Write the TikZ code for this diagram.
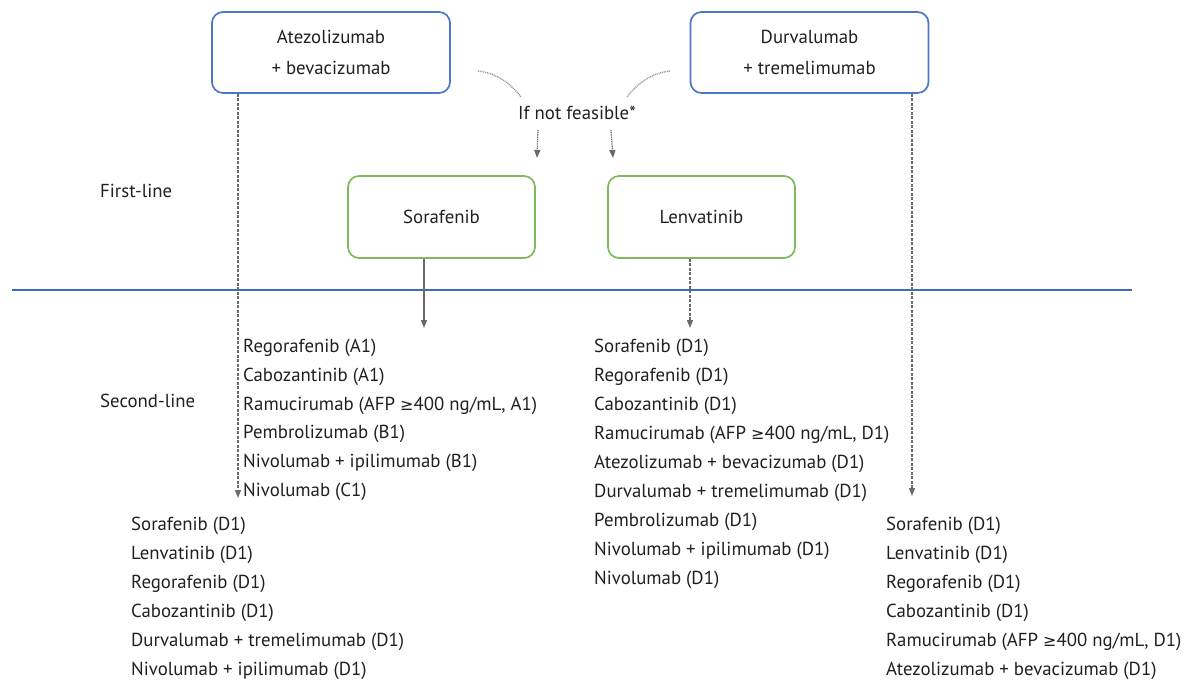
\documentclass[tikz,border=0pt]{standalone}
\usepackage{fontspec}
\setmainfont{PT Sans}
\newfontfamily\symf[Scale=0.85]{DejaVu Sans}
\usetikzlibrary{arrows.meta,calc}
\definecolor{bbox}{HTML}{4A78C6}
\definecolor{gbox}{HTML}{7DBA5C}
\definecolor{hline}{HTML}{3C6BBE}
\definecolor{arr}{HTML}{6A6A6A}
\definecolor{txt}{HTML}{231F20}
\newcommand{\geqsym}{{\symf ≥}}
\tikzset{
  bluebox/.style={draw=bbox,line width=1.7pt,rounded corners=11pt,minimum width=238pt,minimum height=81pt,align=center,font=\fontsize{18.8}{31}\selectfont,text=txt},
  greenbox/.style={draw=gbox,line width=1.7pt,rounded corners=11pt,minimum width=187pt,minimum height=82pt,align=center,font=\fontsize{18.8}{31}\selectfont,text=txt},
  item/.style={anchor=west,inner sep=0pt,font=\fontsize{18.8}{22}\selectfont,text=txt,text height=13pt,text depth=4pt},
  lab/.style={inner sep=0pt,font=\fontsize{18.8}{22}\selectfont,text=txt},
  dashedarrow/.style={draw=arr,line width=1.3pt,dash pattern=on 3pt off 1.5pt,-{Triangle[length=8pt,width=6pt]}},
  solidarrow/.style={draw=arr,line width=1.3pt,-{Triangle[length=8pt,width=6pt]}},
  dotcurve/.style={draw=arr!70,line width=1.4pt,dash pattern=on 1pt off 0.8pt},
}
\begin{document}
\begin{tikzpicture}[x=1pt,y=-1pt]
\useasboundingbox (0,0) rectangle (1195,683);
% boxes
\node[bluebox] (ate) at (331,52.5) {Atezolizumab\\+ bevacizumab};
\node[bluebox] (dur) at (809.5,52.5) {Durvalumab\\+ tremelimumab};
\node[greenbox] (sor) at (441.5,217) {Sorafenib};
\node[greenbox] (len) at (701.5,217) {Lenvatinib};
% labels
\node[lab,anchor=west] (first) at (100,191) {First-line};
\node[lab,anchor=west] (second) at (100,401) {Second-line};
\node[lab] (nf) at (577,113) {If not feasible*};
% horizontal line
\coordinate (hl) at (12,290);
\coordinate (hr) at (1132,290);
\draw[hline,line width=2.8pt] (hl) -- (hr);
% curves
\coordinate (c1s) at (478,71);
\coordinate (c1e) at (521,97);
\coordinate (c2s) at (670,71);
\coordinate (c2e) at (627,97);
\draw[dotcurve] (c1s) .. controls (497,73) and (511,84) .. (c1e);
\draw[dotcurve] (c2s) .. controls (651,73) and (637,84) .. (c2e);
% small arrows
\coordinate (a1s) at (538,130);
\coordinate (a1e) at (537,158);
\coordinate (a2s) at (611,130);
\coordinate (a2e) at (613,158);
\draw[dashedarrow,dash pattern=on 1pt off 0.8pt] (a1s) -- (a1e);
\draw[dashedarrow,dash pattern=on 1pt off 0.8pt] (a2s) -- (a2e);
% main arrows
\coordinate (sarr) at (424,328);
\coordinate (larr) at (690,328);
\coordinate (aarr) at (238,498);
\coordinate (darr) at (912,496);
\draw[solidarrow] (sor.south -| sarr) -- (sarr);
\draw[dashedarrow] (len.south -| larr) -- (larr);
\draw[dashedarrow] (ate.south -| aarr) -- (aarr);
\draw[dashedarrow] (dur.south -| darr) -- (darr);
% lists
\foreach \t [count=\i] in {Regorafenib (A1),Cabozantinib (A1),{Ramucirumab (AFP \geqsym400 ng/mL, A1)},Pembrolizumab (B1),Nivolumab + ipilimumab (B1),Nivolumab (C1)}
  \node[item] (s\i) at (243,{348+28.8*(\i-1)}) {\t};
\foreach \t [count=\i] in {Sorafenib (D1),Regorafenib (D1),Cabozantinib (D1),{Ramucirumab (AFP \geqsym400 ng/mL, D1)},Atezolizumab + bevacizumab (D1),Durvalumab + tremelimumab (D1),Pembrolizumab (D1),Nivolumab + ipilimumab (D1),Nivolumab (D1)}
  \node[item] (l\i) at (594,{348+29*(\i-1)}) {\t};
\foreach \t [count=\i] in {Sorafenib (D1),Lenvatinib (D1),Regorafenib (D1),Cabozantinib (D1),Durvalumab + tremelimumab (D1),Nivolumab + ipilimumab (D1)}
  \node[item] (a\i) at (131,{526+29*(\i-1)}) {\t};
\foreach \t [count=\i] in {Sorafenib (D1),Lenvatinib (D1),Regorafenib (D1),Cabozantinib (D1),{Ramucirumab (AFP \geqsym400 ng/mL, D1)},Atezolizumab + bevacizumab (D1)}
  \node[item] (d\i) at (886,{526+29*(\i-1)}) {\t};
\end{tikzpicture}
\end{document}
